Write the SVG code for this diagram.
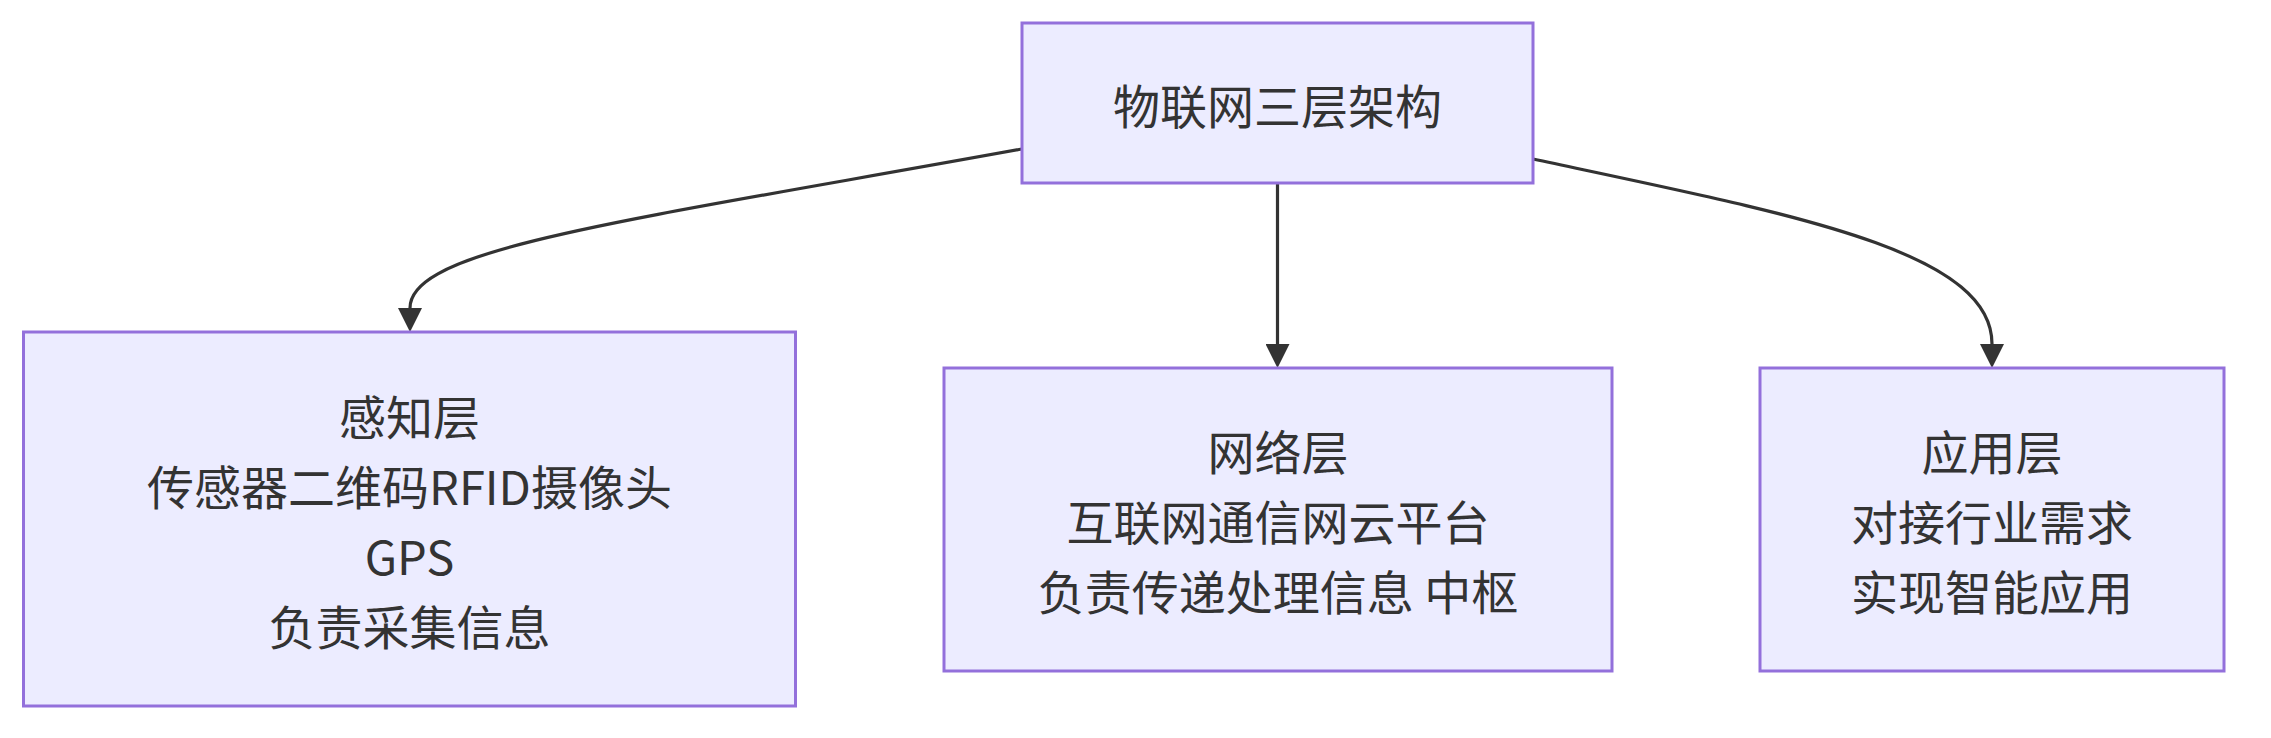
<svg xmlns="http://www.w3.org/2000/svg" width="2271" height="738" viewBox="0 0 2271 738">
<style>
.node rect{fill:#ECECFF;stroke:#9370DB;stroke-width:3}
.node text{font-family:"Noto Sans CJK SC","Noto Sans",sans-serif;font-size:47px;fill:#333333;text-anchor:middle;dominant-baseline:central}
.edge{fill:none;stroke:#333333;stroke-width:3.2}
</style>
<defs>
<marker id="arrow" viewBox="0 0 10 10" refX="0" refY="5" markerUnits="userSpaceOnUse" markerWidth="24" markerHeight="24" orient="auto">
<path d="M0,0 L10,5 L0,10 z" fill="#333333"/>
</marker>
</defs>
<rect width="2271" height="738" fill="#ffffff"/>
<g id="connectors">
<path class="edge" d="M1022,149 C620,222 410,248 410,308" marker-end="url(#arrow)"/>
<path class="edge" d="M1277.5,183 L1277.5,344" marker-end="url(#arrow)"/>
<path class="edge" d="M1533,159 C1790,214 1992,250 1992,344" marker-end="url(#arrow)"/>
</g>
<g id="root" class="node">
<rect x="1022" y="23" width="511" height="160"/>
<text x="1277.5" y="103">物联网三层架构</text>
</g>
<g id="perception" class="node">
<rect x="23.5" y="332" width="772" height="374"/>
<text x="409.5" y="414">感知层</text>
<text x="409.5" y="484">传感器二维码RFID摄像头</text>
<text x="409.5" y="554">GPS</text>
<text x="409.5" y="624">负责采集信息</text>
</g>
<g id="network" class="node">
<rect x="944" y="368" width="668" height="303"/>
<text x="1278" y="449.5">网络层</text>
<text x="1278" y="519.5">互联网通信网云平台</text>
<text x="1278" y="589.5">负责传递处理信息 中枢</text>
</g>
<g id="application" class="node">
<rect x="1760" y="368" width="464" height="303"/>
<text x="1992" y="449.5">应用层</text>
<text x="1992" y="519.5">对接行业需求</text>
<text x="1992" y="589.5">实现智能应用</text>
</g>
</svg>
